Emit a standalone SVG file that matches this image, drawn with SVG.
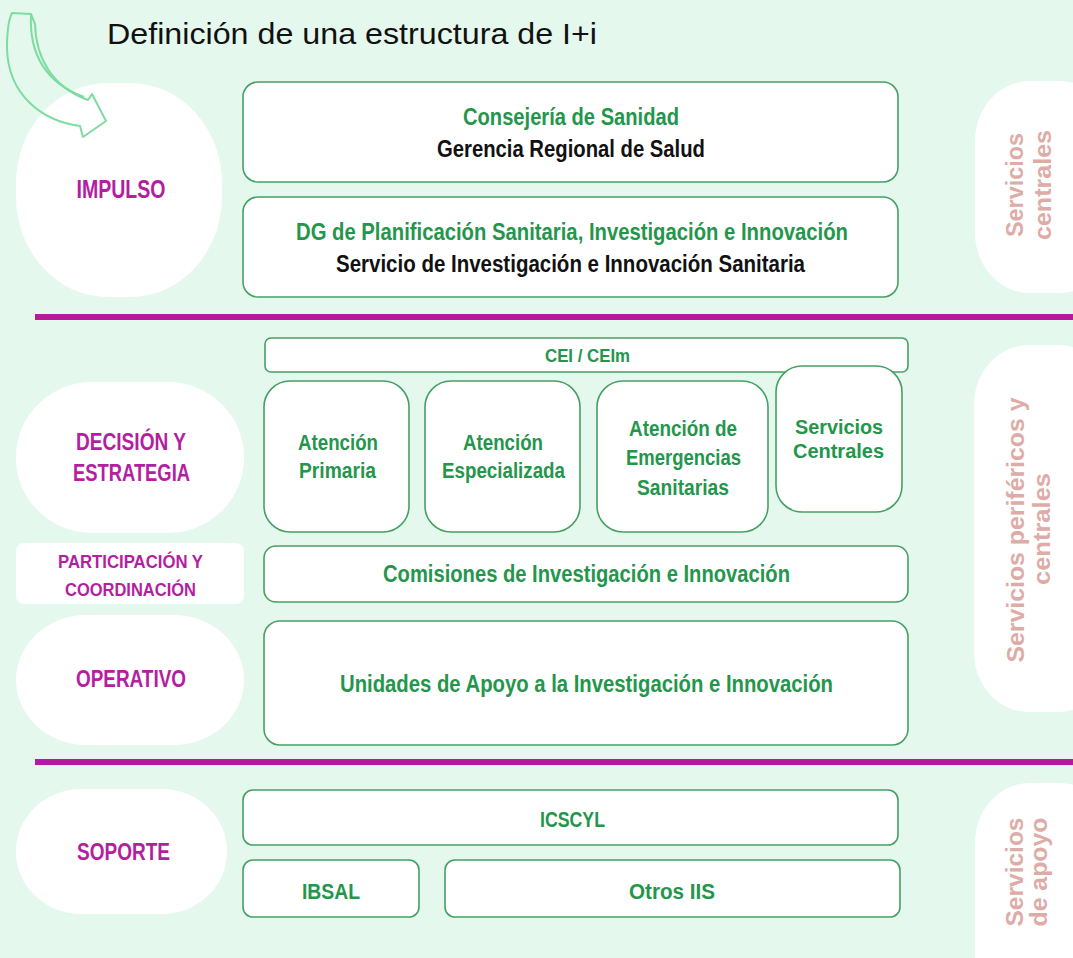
<svg xmlns="http://www.w3.org/2000/svg" width="1073" height="958" viewBox="0 0 1073 958">
<style>
.bg{fill:#e5f8ed}
.wh{fill:#ffffff}
.box{fill:#ffffff;stroke:#46a064;stroke-width:1.6}
.bar{fill:#b5199f}
.g{font-family:"Liberation Sans",Arial,sans-serif;font-weight:bold;fill:#24964c;text-anchor:middle}
.k{font-family:"Liberation Sans",Arial,sans-serif;font-weight:bold;fill:#111111;text-anchor:middle}
.m{font-family:"Liberation Sans",Arial,sans-serif;font-weight:bold;fill:#b41ea0;text-anchor:middle}
.p{font-family:"Liberation Sans",Arial,sans-serif;font-weight:bold;fill:#deaca6;text-anchor:middle;font-size:23px}
.arrow{fill:none;stroke:#7ddca0;stroke-width:2;stroke-linejoin:round}
</style>
<rect class="bg" x="0" y="0" width="1073" height="958"/>

<g id="title">
<text x="107" y="44" font-family="Liberation Sans, Arial, sans-serif" font-size="29" fill="#111111" textLength="490" lengthAdjust="spacingAndGlyphs">Definición de una estructura de I+i</text>
</g>

<g id="right-pills">
<rect class="wh" x="975" y="81" width="140" height="212" rx="55" ry="60"/>
<rect class="wh" x="974" y="345" width="140" height="367" rx="55" ry="60"/>
<rect class="wh" x="975" y="783" width="140" height="230" rx="55" ry="60"/>
<text class="p" transform="translate(1023,185) rotate(-90)" textLength="104" lengthAdjust="spacingAndGlyphs">Servicios</text>
<text class="p" transform="translate(1051,185) rotate(-90)" textLength="110" lengthAdjust="spacingAndGlyphs">centrales</text>
<text class="p" transform="translate(1024,530) rotate(-90)" textLength="265" lengthAdjust="spacingAndGlyphs">Servicios periféricos y</text>
<text class="p" transform="translate(1050,529) rotate(-90)" textLength="112" lengthAdjust="spacingAndGlyphs">centrales</text>
<text class="p" transform="translate(1023,872) rotate(-90)" textLength="109" lengthAdjust="spacingAndGlyphs">Servicios</text>
<text class="p" transform="translate(1047,872) rotate(-90)" textLength="109" lengthAdjust="spacingAndGlyphs">de apoyo</text>
</g>

<g id="impulso">
<rect class="wh" x="16" y="83" width="206" height="214" rx="92" ry="100"/>
<text class="m" x="121" y="198" font-size="25" textLength="89" lengthAdjust="spacingAndGlyphs">IMPULSO</text>
</g>

<g id="arrow">
<path class="arrow" d="M12,13 L31,14 L35,24 C36,58 52,87 88,100 L92,94 L106,121 L83,137 L80,126 C42,121 8,95 7,48 C7,32 8,21 12,13 Z"/>
<path class="arrow" d="M31,14 C29,52 44,82 84,97"/>
</g>

<g id="decision">
<rect class="wh" x="16" y="382" width="228" height="151" rx="76" ry="75"/>
<text class="m" x="131" y="450" font-size="24.5" textLength="110" lengthAdjust="spacingAndGlyphs">DECISIÓN Y</text>
<text class="m" x="131.5" y="481" font-size="24.5" textLength="117" lengthAdjust="spacingAndGlyphs">ESTRATEGIA</text>
</g>

<g id="participacion">
<rect class="wh" x="16" y="543" width="228" height="61" rx="8"/>
<text class="m" x="130.5" y="568" font-size="19" textLength="145" lengthAdjust="spacingAndGlyphs">PARTICIPACIÓN Y</text>
<text class="m" x="130.5" y="596" font-size="19" textLength="131" lengthAdjust="spacingAndGlyphs">COORDINACIÓN</text>
</g>

<g id="operativo">
<rect class="wh" x="16" y="615" width="228" height="130" rx="70" ry="65"/>
<text class="m" x="131" y="687" font-size="24.5" textLength="110" lengthAdjust="spacingAndGlyphs">OPERATIVO</text>
</g>

<g id="soporte">
<rect class="wh" x="16" y="789" width="211" height="125" rx="65" ry="62"/>
<text class="m" x="123.5" y="860" font-size="24.5" textLength="93" lengthAdjust="spacingAndGlyphs">SOPORTE</text>
</g>

<g id="dividers">
<rect class="bar" x="35" y="314" width="1038" height="6"/>
<rect class="bar" x="35" y="759" width="1038" height="6"/>
</g>

<g id="consejeria">
<rect class="box" x="243" y="82" width="655" height="100" rx="15"/>
<text class="g" x="571" y="125" font-size="23.5" textLength="216" lengthAdjust="spacingAndGlyphs">Consejería de Sanidad</text>
<text class="k" x="571" y="157" font-size="23.5" textLength="268" lengthAdjust="spacingAndGlyphs">Gerencia Regional de Salud</text>
</g>

<g id="dg">
<rect class="box" x="243" y="197" width="655" height="100" rx="15"/>
<text class="g" x="572" y="240" font-size="23.5" textLength="552" lengthAdjust="spacingAndGlyphs">DG de Planificación Sanitaria, Investigación e Innovación</text>
<text class="k" x="570.5" y="272" font-size="23.5" textLength="469" lengthAdjust="spacingAndGlyphs">Servicio de Investigación e Innovación Sanitaria</text>
</g>

<g id="cei">
<rect class="box" x="265" y="338" width="643" height="34" rx="6"/>
<text class="g" x="587.5" y="362" font-size="19" textLength="85" lengthAdjust="spacingAndGlyphs">CEI / CEIm</text>
</g>

<g id="primaria">
<rect class="box" x="264" y="381" width="145" height="151" rx="26"/>
<text class="g" x="338" y="450" font-size="22.5" textLength="80" lengthAdjust="spacingAndGlyphs">Atención</text>
<text class="g" x="337.5" y="478" font-size="22.5" textLength="77" lengthAdjust="spacingAndGlyphs">Primaria</text>
</g>

<g id="especializada">
<rect class="box" x="425" y="381" width="155" height="151" rx="26"/>
<text class="g" x="503" y="450" font-size="22.5" textLength="80" lengthAdjust="spacingAndGlyphs">Atención</text>
<text class="g" x="503.5" y="478" font-size="22.5" textLength="123" lengthAdjust="spacingAndGlyphs">Especializada</text>
</g>

<g id="emergencias">
<rect class="box" x="597" y="381" width="171" height="151" rx="26"/>
<text class="g" x="683" y="436" font-size="22.5" textLength="108" lengthAdjust="spacingAndGlyphs">Atención de</text>
<text class="g" x="683.5" y="465" font-size="22.5" textLength="115" lengthAdjust="spacingAndGlyphs">Emergencias</text>
<text class="g" x="683" y="495" font-size="22.5" textLength="92" lengthAdjust="spacingAndGlyphs">Sanitarias</text>
</g>

<g id="servicios-centrales">
<rect class="box" x="776" y="366" width="126" height="146" rx="26"/>
<text class="g" x="839" y="434" font-size="20" textLength="88" lengthAdjust="spacingAndGlyphs">Servicios</text>
<text class="g" x="838.5" y="458" font-size="20" textLength="91" lengthAdjust="spacingAndGlyphs">Centrales</text>
</g>

<g id="comisiones">
<rect class="box" x="264" y="546" width="644" height="56" rx="12"/>
<text class="g" x="586.5" y="582" font-size="23.5" textLength="407" lengthAdjust="spacingAndGlyphs">Comisiones de Investigación e Innovación</text>
</g>

<g id="unidades">
<rect class="box" x="264" y="621" width="644" height="124" rx="16"/>
<text class="g" x="586.5" y="692" font-size="23.5" textLength="493" lengthAdjust="spacingAndGlyphs">Unidades de Apoyo a la Investigación e Innovación</text>
</g>

<g id="icscyl">
<rect class="box" x="243" y="790" width="655" height="55" rx="10"/>
<text class="g" x="572.5" y="827" font-size="22.5" textLength="65" lengthAdjust="spacingAndGlyphs">ICSCYL</text>
</g>

<g id="ibsal">
<rect class="box" x="243" y="860" width="176" height="57" rx="10"/>
<text class="g" x="331" y="899" font-size="22.5" textLength="58" lengthAdjust="spacingAndGlyphs">IBSAL</text>
</g>

<g id="otros">
<rect class="box" x="445" y="860" width="455" height="57" rx="10"/>
<text class="g" x="672" y="899" font-size="22.5" textLength="86" lengthAdjust="spacingAndGlyphs">Otros IIS</text>
</g>

<g id="connectors"></g>
</svg>
